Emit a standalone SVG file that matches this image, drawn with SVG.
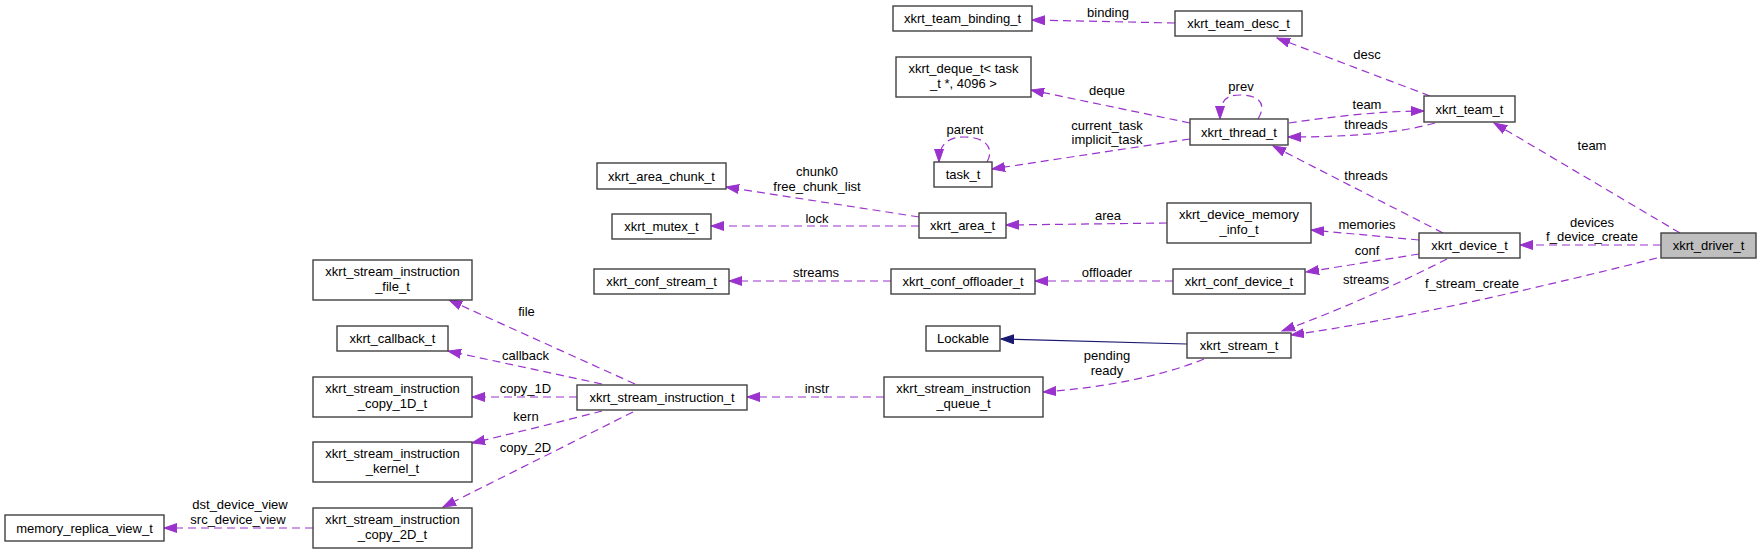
<svg xmlns="http://www.w3.org/2000/svg" width="1761" height="554" viewBox="0 0 1761 554">
<defs>
<style>
.n rect{fill:#ffffff;stroke:#404040;stroke-width:1.4}
.n.root rect{fill:#bfbfbf}
text{font-family:"Liberation Sans",Arial,sans-serif;font-size:13px;fill:#000000;text-anchor:middle}
.e{fill:none;stroke:#9a32cd;stroke-width:1.2;stroke-dasharray:8,5;marker-end:url(#ap)}
.inh{fill:none;stroke:#191970;stroke-width:1.2;marker-end:url(#an)}
</style>
<marker id="ap" markerUnits="userSpaceOnUse" markerWidth="14" markerHeight="10" refX="13" refY="5" orient="auto" viewBox="0 0 14 10">
<path d="M0,0.5 L13,5 L0,9.5 z" fill="#9a32cd" stroke="#9a32cd" stroke-width="1"/>
</marker>
<marker id="an" markerUnits="userSpaceOnUse" markerWidth="14" markerHeight="10" refX="13" refY="5" orient="auto" viewBox="0 0 14 10">
<path d="M0,0.5 L13,5 L0,9.5 z" fill="#191970" stroke="#191970" stroke-width="1"/>
</marker>
</defs>
<rect x="0" y="0" width="1761" height="554" fill="#ffffff"/>
<g id="connectors">
<path class="e" d="M1175,23 L1032,20"/>
<text x="1108" y="17">binding</text>
<path class="e" d="M1430,96 L1277,38"/>
<text x="1367" y="58.5">desc</text>
<path class="e" d="M1190,123 L1031,90"/>
<text x="1107" y="95">deque</text>
<path class="e" d="M1258,119 C1266,106 1262,95 1240,95 C1226,95 1220,100 1220,119"/>
<text x="1241" y="90.5">prev</text>
<path class="e" d="M1190,139 L992,169"/>
<text x="1107" y="129.5">current_task</text>
<text x="1107" y="144">implicit_task</text>
<path class="e" d="M987,162 C995,148 985,137 965,137 C950,137 939,142 939,162"/>
<text x="965" y="133.5">parent</text>
<path class="e" d="M1289,123 C1330,117 1380,111 1424,111"/>
<text x="1367" y="108.5">team</text>
<path class="e" d="M1435,123 C1400,133 1350,137 1288,137"/>
<text x="1366" y="128.5">threads</text>
<path class="e" d="M1443,233 L1273,146"/>
<text x="1366" y="179.5">threads</text>
<path class="e" d="M1680,233 L1494,123"/>
<text x="1592" y="149.5">team</text>
<path class="e" d="M1661,245 L1520,245"/>
<text x="1592" y="227">devices</text>
<text x="1592" y="241">f_device_create</text>
<path class="e" d="M1657,258 C1550,285 1400,320 1291,335"/>
<text x="1472" y="287.5">f_stream_create</text>
<path class="e" d="M1419,240 L1311,230"/>
<text x="1367" y="228.5">memories</text>
<path class="e" d="M1419,254 L1306,272"/>
<text x="1367" y="254.5">conf</text>
<path class="e" d="M1447,259 C1400,283 1340,310 1282,331"/>
<text x="1366" y="284">streams</text>
<path class="e" d="M1167,223 L1006,225"/>
<text x="1108" y="219.5">area</text>
<path class="e" d="M919,217 L726,187"/>
<text x="817" y="176">chunk0</text>
<text x="817" y="191">free_chunk_list</text>
<path class="e" d="M919,226 L711,226"/>
<text x="817" y="222.5">lock</text>
<path class="e" d="M1173,281 L1035,281"/>
<text x="1107" y="276.5">offloader</text>
<path class="e" d="M891,281 L729,281"/>
<text x="816" y="277">streams</text>
<path class="inh" d="M1187,344 L1001,339"/>
<path class="e" d="M1204,359 C1160,377 1100,388 1043,392"/>
<text x="1107" y="360">pending</text>
<text x="1107" y="375">ready</text>
<path class="e" d="M884,397 L747,397"/>
<text x="817" y="392.5">instr</text>
<path class="e" d="M635,384 L449,300"/>
<text x="526.5" y="316">file</text>
<path class="e" d="M602,384 L448,351"/>
<text x="525.5" y="360">callback</text>
<path class="e" d="M577,397 L472,397"/>
<text x="525.5" y="392.5">copy_1D</text>
<path class="e" d="M602,411 C560,422 510,434 472,443"/>
<text x="526" y="420.5">kern</text>
<path class="e" d="M633,412 L443,507"/>
<text x="525.5" y="452">copy_2D</text>
<path class="e" d="M313,528 L164,528"/>
<text x="240" y="508.5">dst_device_view</text>
<text x="238" y="523.5">src_device_view</text>
</g>
<g id="xkrt_team_binding_t" class="n"><rect x="893" y="6" width="139" height="25"/><text x="962.5" y="23">xkrt_team_binding_t</text></g>
<g id="xkrt_team_desc_t" class="n"><rect x="1175" y="11" width="127" height="25"/><text x="1238.5" y="28">xkrt_team_desc_t</text></g>
<g id="xkrt_deque_t" class="n"><rect x="896" y="57" width="135" height="40"/><text x="963.5" y="72.5">xkrt_deque_t&lt; task</text><text x="963.5" y="87.5">_t *, 4096 &gt;</text></g>
<g id="xkrt_thread_t" class="n"><rect x="1190" y="119" width="98" height="26"/><text x="1239" y="136.5">xkrt_thread_t</text></g>
<g id="xkrt_team_t" class="n"><rect x="1424" y="96" width="91" height="26"/><text x="1469.5" y="113.5">xkrt_team_t</text></g>
<g id="xkrt_area_chunk_t" class="n"><rect x="597" y="163" width="129" height="26"/><text x="661.5" y="180.5">xkrt_area_chunk_t</text></g>
<g id="task_t" class="n"><rect x="934" y="162" width="58" height="25"/><text x="963" y="179">task_t</text></g>
<g id="xkrt_mutex_t" class="n"><rect x="612" y="214" width="99" height="25"/><text x="661.5" y="231">xkrt_mutex_t</text></g>
<g id="xkrt_area_t" class="n"><rect x="919" y="213" width="87" height="25"/><text x="962.5" y="230">xkrt_area_t</text></g>
<g id="xkrt_device_memory_info_t" class="n"><rect x="1167" y="203" width="144" height="40"/><text x="1239" y="218.5">xkrt_device_memory</text><text x="1239" y="233.5">_info_t</text></g>
<g id="xkrt_device_t" class="n"><rect x="1419" y="233" width="101" height="25"/><text x="1469.5" y="250">xkrt_device_t</text></g>
<g id="xkrt_driver_t" class="n root"><rect x="1661" y="233" width="95" height="25"/><text x="1708.5" y="250">xkrt_driver_t</text></g>
<g id="xkrt_conf_stream_t" class="n"><rect x="594" y="269" width="135" height="25"/><text x="661.5" y="286">xkrt_conf_stream_t</text></g>
<g id="xkrt_conf_offloader_t" class="n"><rect x="891" y="269" width="144" height="25"/><text x="963" y="286">xkrt_conf_offloader_t</text></g>
<g id="xkrt_conf_device_t" class="n"><rect x="1173" y="269" width="132" height="25"/><text x="1239" y="286">xkrt_conf_device_t</text></g>
<g id="Lockable" class="n"><rect x="926" y="326" width="74" height="25"/><text x="963" y="343">Lockable</text></g>
<g id="xkrt_stream_t" class="n"><rect x="1187" y="333" width="104" height="25"/><text x="1239" y="350">xkrt_stream_t</text></g>
<g id="xkrt_stream_instruction_file_t" class="n"><rect x="313" y="260" width="159" height="40"/><text x="392.5" y="275.5">xkrt_stream_instruction</text><text x="392.5" y="290.5">_file_t</text></g>
<g id="xkrt_callback_t" class="n"><rect x="337" y="326" width="111" height="25"/><text x="392.5" y="343">xkrt_callback_t</text></g>
<g id="xkrt_stream_instruction_copy_1D_t" class="n"><rect x="313" y="377" width="159" height="40"/><text x="392.5" y="392.5">xkrt_stream_instruction</text><text x="392.5" y="407.5">_copy_1D_t</text></g>
<g id="xkrt_stream_instruction_kernel_t" class="n"><rect x="313" y="442" width="159" height="40"/><text x="392.5" y="457.5">xkrt_stream_instruction</text><text x="392.5" y="472.5">_kernel_t</text></g>
<g id="xkrt_stream_instruction_copy_2D_t" class="n"><rect x="313" y="508" width="159" height="40"/><text x="392.5" y="523.5">xkrt_stream_instruction</text><text x="392.5" y="538.5">_copy_2D_t</text></g>
<g id="memory_replica_view_t" class="n"><rect x="5" y="515" width="159" height="26"/><text x="84.5" y="532.5">memory_replica_view_t</text></g>
<g id="xkrt_stream_instruction_t" class="n"><rect x="577" y="385" width="170" height="25"/><text x="662" y="402">xkrt_stream_instruction_t</text></g>
<g id="xkrt_stream_instruction_queue_t" class="n"><rect x="884" y="377" width="159" height="40"/><text x="963.5" y="392.5">xkrt_stream_instruction</text><text x="963.5" y="407.5">_queue_t</text></g>
</svg>
